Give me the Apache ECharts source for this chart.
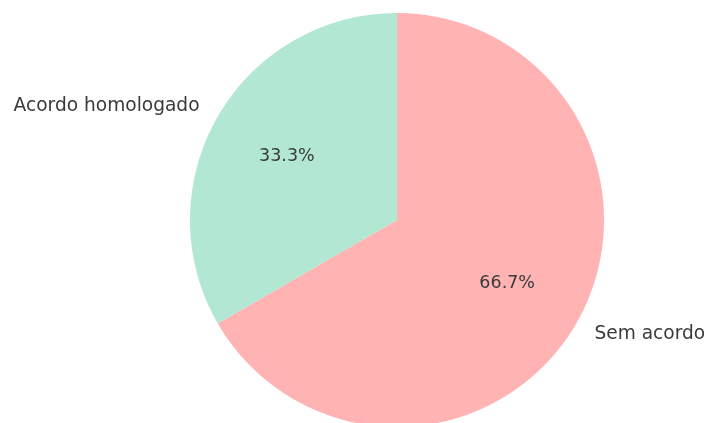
<!DOCTYPE html>
<html>
<head>
<meta charset="utf-8">
<script src="https://cdn.jsdelivr.net/npm/echarts@6/dist/echarts.min.js"></script>
<style>
  html, body { margin: 0; padding: 0; background: #fff; }
  #chart { width: 708px; height: 423px; }
</style>
</head>
<body>
<div id="chart"></div>
<script>
// dados
var categorias = ["Sem acordo", "Acordo homologado"];
var valores = [2, 1];
var cores = ["#ffb3b3", "#b2e7d3"];

var R = 207;
var centro = [397, 220];

var dados = categorias.map(function (nome, i) {
  return { name: nome, value: valores[i], itemStyle: { color: cores[i] } };
});

var chart = echarts.init(document.getElementById("chart"));
var option = {
  backgroundColor: "#fff",
  animation: false,
  series: [
    {
      // fatias + nomes por fora
      type: "pie",
      center: centro,
      radius: R,
      startAngle: 90,
      clockwise: true,
      avoidLabelOverlap: false,
      silent: true,
      itemStyle: { borderWidth: 0 },
      label: {
        show: true,
        position: "outside",
        formatter: "{b}",
        fontFamily: "DejaVu Sans",
        fontSize: 18.6,
        color: "#3a3a3a",
        distanceToLabelLine: 0
      },
      labelLine: { show: false, length: 21, length2: 0 },
      data: dados
    },
    {
      // percentuais dentro (0.6 do raio)
      type: "pie",
      center: centro,
      radius: [R * 0.2, R],
      startAngle: 90,
      clockwise: true,
      avoidLabelOverlap: false,
      silent: true,
      percentPrecision: 1,
      itemStyle: { color: "rgba(0,0,0,0)", borderWidth: 0 },
      label: {
        show: true,
        position: "inside",
        formatter: "{d}%",
        fontFamily: "DejaVu Sans",
        fontSize: 17.5,
        color: "#3a3a3a"
      },
      labelLine: { show: false },
      data: categorias.map(function (nome, i) {
        return { name: nome, value: valores[i] };
      })
    }
  ]
};
chart.setOption(option);
</script>
</body>
</html>
